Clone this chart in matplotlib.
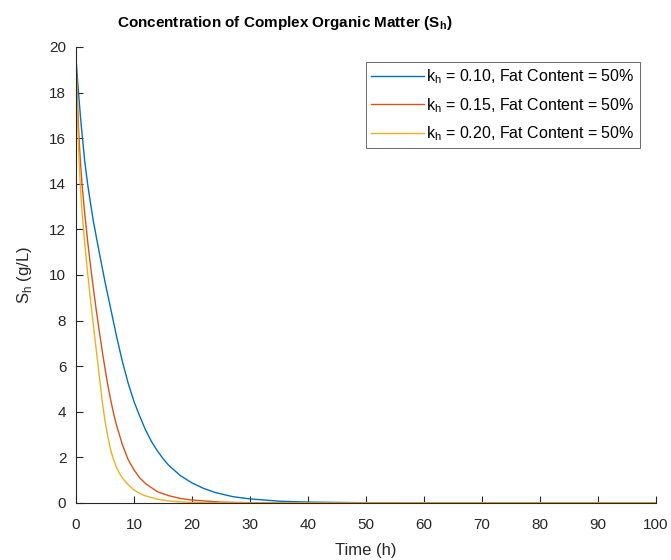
import matplotlib.pyplot as plt

plt.rcParams['font.family'] = ['Liberation Sans', 'DejaVu Sans']
plt.rcParams['mathtext.fontset'] = 'custom'
plt.rcParams['mathtext.rm'] = 'Liberation Sans'

# values
t_blue = [0, 0.25, 0.5, 0.75, 1, 1.5, 2, 2.5, 3, 4, 5, 6, 7, 8, 9, 10, 11, 12, 13, 14, 15, 16, 18, 20, 22, 24,
          27, 30, 35, 40, 50, 60, 100]
s_blue = [19.5, 18.6, 17.8, 17.0, 16.3, 15.0, 14.0, 13.15, 12.35, 11.0, 9.7, 8.5, 7.3, 6.2, 5.25, 4.45, 3.8,
          3.2, 2.7, 2.3, 1.95, 1.65, 1.2, 0.88, 0.64, 0.46, 0.28, 0.18, 0.08, 0.04, 0.01, 0.0, 0.0]

t_orange = [0, 0.25, 0.5, 0.75, 1, 1.5, 2, 2.5, 3, 3.5, 4, 4.5, 5, 5.5, 6, 6.5, 7, 8, 9, 10, 11, 12, 14, 16, 18,
            20, 25, 30, 40, 100]
s_orange = [19.5, 17.6, 16.1, 15.0, 14.1, 12.7, 11.5, 10.4, 9.4, 8.45, 7.55, 6.7, 5.9, 5.15, 4.5, 3.9, 3.4,
            2.55, 1.9, 1.45, 1.1, 0.85, 0.5, 0.32, 0.2, 0.13, 0.04, 0.01, 0.0, 0.0]

t_yellow = [0, 0.25, 0.5, 0.75, 1, 1.5, 2, 2.5, 3, 3.5, 4, 4.5, 5, 5.5, 6, 6.5, 7, 7.5, 8, 9, 10, 11, 12, 14, 16,
            18, 20, 25, 30, 100]
s_yellow = [19.5, 17.0, 15.2, 13.9, 12.9, 11.4, 10.1, 8.9, 7.8, 6.7, 5.6, 4.5, 3.6, 2.9, 2.3, 1.88, 1.55, 1.3,
            1.1, 0.8, 0.57, 0.42, 0.31, 0.17, 0.09, 0.05, 0.03, 0.01, 0.0, 0.0]

labels = [r'k$_\mathregular{h}$ = 0.10, Fat Content = 50%',
          r'k$_\mathregular{h}$ = 0.15, Fat Content = 50%',
          r'k$_\mathregular{h}$ = 0.20, Fat Content = 50%']
colors = ['#0072BD', '#D95319', '#EDB120']

fig = plt.figure(figsize=(6.71, 5.60), dpi=100)
ax = fig.add_axes([76 / 671, 1 - 503 / 560, 580 / 671, 456 / 560])

ax.plot(t_blue, s_blue, color=colors[0], lw=1.0, label=labels[0])
ax.plot(t_orange, s_orange, color=colors[1], lw=1.0, label=labels[1])
ax.plot(t_yellow, s_yellow, color=colors[2], lw=1.0, label=labels[2])

ax.set_xlim(0, 100)
ax.set_ylim(0, 20)
ax.set_xticks(range(0, 101, 10))
ax.set_yticks(range(0, 21, 2))
for side in ['top', 'right']:
    ax.spines[side].set_visible(False)
for side in ['left', 'bottom']:
    ax.spines[side].set_color('#262626')
    ax.spines[side].set_linewidth(0.8)
ax.tick_params(direction='in', length=5, width=0.8, colors='#262626', labelsize=11)
ax.tick_params(axis='y', pad=7)
ax.tick_params(axis='x', pad=11)

ax.set_xlabel('Time (h)', fontsize=12, color='#262626', labelpad=8)
ax.set_ylabel(r'S$_\mathregular{h}$ (g/L)', fontsize=12, color='#262626', labelpad=11)

fig.text(285 / 671, 1 - 23 / 560, r'Concentration of Complex Organic Matter (S$_\mathregular{h}$)',
         ha='center', va='center', fontsize=11, fontweight='bold', color='black')

leg = ax.legend(loc='upper right', bbox_to_anchor=(640 / 671, 1 - 62 / 560), bbox_transform=fig.transFigure,
                fontsize=11.5, frameon=True, fancybox=False, handlelength=3.3, handletextpad=0.12,
                labelspacing=0.6, borderpad=0.35, borderaxespad=0)
leg.get_frame().set_edgecolor('#262626')
leg.get_frame().set_linewidth(0.6)

fig.savefig('out.png', dpi=100)
